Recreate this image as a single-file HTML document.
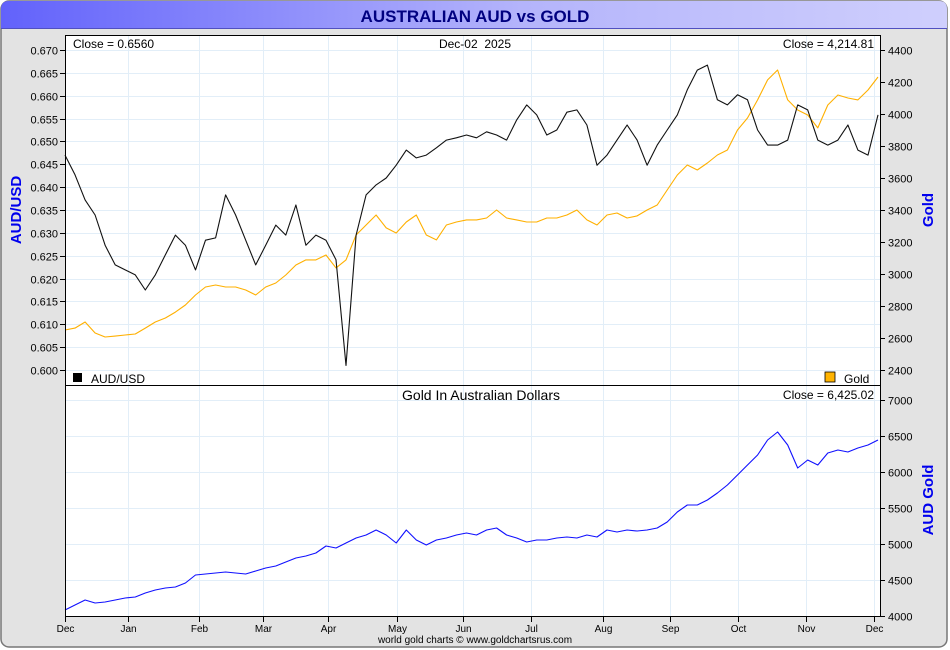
<!DOCTYPE html>
<html><head><meta charset="utf-8"><style>
html,body{margin:0;padding:0;width:950px;height:650px;overflow:hidden;background:#fff;}
svg{display:block;font-family:"Liberation Sans",sans-serif;}
</style></head><body>
<svg id="chart" width="950" height="650" xmlns="http://www.w3.org/2000/svg">
<defs>
<linearGradient id="tg" x1="0" x2="1" y1="0" y2="0"><stop offset="0" stop-color="#6262fb"/><stop offset="0.55" stop-color="#b4b4fb"/><stop offset="1" stop-color="#cfcffd"/></linearGradient>
</defs>
<rect x="1" y="1" width="946" height="646" rx="8" fill="#e3e3e3" stroke="#777" stroke-width="1.5"/>
<path d="M1,28 L1,9 Q1,1 9,1 L939,1 Q947,1 947,9 L947,28 Z" fill="url(#tg)"/>
<line x1="1" y1="28.5" x2="947" y2="28.5" stroke="#5050c0" stroke-width="1"/>
<text x="475" y="22" text-anchor="middle" font-size="17" font-weight="bold" fill="#000080">AUSTRALIAN AUD vs GOLD</text>
<rect x="65" y="35" width="815" height="582" fill="#fff"/>
<g id="grid"></g>
<g id="series"></g>
<rect x="65.5" y="35.5" width="815" height="350" fill="none" stroke="#000" stroke-width="1"/>
<rect x="65.5" y="385.5" width="815" height="231" fill="none" stroke="#000" stroke-width="1"/>
<g id="axes" font-size="11"></g>
<text x="73" y="48" font-size="12">Close = 0.6560</text>
<text x="475" y="48" font-size="12" text-anchor="middle">Dec-02&#160;&#160;2025</text>
<text x="874" y="48" font-size="12" text-anchor="end">Close = 4,214.81</text>
<rect x="73" y="373" width="9" height="9" fill="#000"/>
<text x="91" y="383" font-size="12">AUD/USD</text>
<rect x="825" y="372" width="10" height="10" fill="#ffb300" stroke="#000" stroke-width="0.8"/>
<text x="844" y="383" font-size="12">Gold</text>
<text x="481" y="400" font-size="14" text-anchor="middle">Gold In Australian Dollars</text>
<text x="874" y="399" font-size="12" text-anchor="end">Close = 6,425.02</text>
<text transform="translate(21,210) rotate(-90)" text-anchor="middle" font-size="15" font-weight="bold" fill="#0000ee">AUD/USD</text>
<text transform="translate(933,210) rotate(-90)" text-anchor="middle" font-size="15" font-weight="bold" fill="#0000ee">Gold</text>
<text transform="translate(933,500) rotate(-90)" text-anchor="middle" font-size="15" font-weight="bold" fill="#0000ee">AUD Gold</text>
<text x="475" y="643" font-size="10" text-anchor="middle">world gold charts © www.goldchartsrus.com</text>
</svg>
<script>
const audTicks=[0.600,0.605,0.610,0.615,0.620,0.625,0.630,0.635,0.640,0.645,0.650,0.655,0.660,0.665,0.670];
const goldTicks=[2400,2600,2800,3000,3200,3400,3600,3800,4000,4200,4400];
const audGoldTicks=[4000,4500,5000,5500,6000,6500,7000];
const months=["Dec","Jan","Feb","Mar","Apr","May","Jun","Jul","Aug","Sep","Oct","Nov","Dec"];
const monthDays=[0,28.2,59.9,88.5,117.6,148.4,178,208.4,240.6,270.6,301,331.4,361.7];
const audUsd=[0.6470,0.6427,0.6372,0.6339,0.6273,0.6230,0.6219,0.6208,0.6175,0.6208,0.6252,0.6295,0.6273,0.6219,0.6284,0.6289,0.6383,0.6339,0.6284,0.6230,0.6273,0.6317,0.6295,0.6361,0.6273,0.6295,0.6284,0.6241,0.6010,0.6295,0.6383,0.6405,0.6420,0.6448,0.6481,0.6464,0.6470,0.6486,0.6503,0.6508,0.6514,0.6508,0.6521,0.6514,0.6503,0.6547,0.6580,0.6558,0.6514,0.6525,0.6564,0.6569,0.6536,0.6448,0.6470,0.6503,0.6536,0.6503,0.6448,0.6492,0.6525,0.6558,0.6613,0.6656,0.6667,0.6591,0.6580,0.6602,0.6591,0.6525,0.6492,0.6492,0.6503,0.6580,0.6569,0.6503,0.6492,0.6503,0.6536,0.6481,0.6470,0.6558];
const goldUsd=[2650,2662,2700,2631,2606,2612,2619,2625,2662,2700,2725,2762,2806,2869,2919,2931,2919,2919,2900,2869,2919,2944,2994,3056,3088,3088,3119,3038,3088,3244,3306,3369,3288,3256,3325,3369,3244,3213,3306,3325,3338,3338,3350,3400,3350,3338,3325,3325,3350,3350,3369,3400,3338,3306,3369,3381,3350,3363,3400,3431,3525,3619,3681,3650,3694,3744,3775,3900,3975,4088,4213,4275,4088,4025,3994,3913,4056,4119,4100,4088,4150,4231];
const goldAud=[4083,4153,4222,4181,4194,4222,4250,4264,4319,4361,4389,4403,4458,4569,4583,4597,4611,4597,4583,4625,4667,4694,4750,4806,4833,4875,4972,4944,5014,5083,5125,5194,5125,5014,5194,5056,4986,5056,5083,5125,5153,5125,5194,5222,5125,5083,5028,5056,5056,5083,5097,5083,5125,5097,5194,5167,5194,5181,5194,5222,5306,5444,5542,5542,5611,5708,5819,5958,6097,6236,6444,6556,6375,6056,6167,6097,6264,6306,6278,6333,6375,6444];

const NS="http://www.w3.org/2000/svg";
const X0=65,X1=875;
const yAud=v=>50+(0.670-v)/0.070*320;
const yGold=v=>50+(4400-v)/2000*320;
const yAG=v=>400+(7000-v)/3000*216;
const xDay=d=>X0+d/364*814;
const xIdx=(i,n)=>X0+i*(X1-X0+3)/(n-1);
function mk(tag,attrs,parent){const e=document.createElementNS(NS,tag);for(const k in attrs)e.setAttribute(k,attrs[k]);parent.appendChild(e);return e;}
const grid=document.getElementById('grid'),axes=document.getElementById('axes'),ser=document.getElementById('series');
audTicks.forEach(v=>{const y=Math.round(yAud(v))+0.5;
 const l=mk('line',{x1:66,x2:880,y1:y,y2:y,stroke:'#e2eef8'},grid);
 
 
 mk('line',{x1:60,x2:65,y1:y,y2:y,stroke:'#000'},axes);
 const t=mk('text',{x:58,y:y+4,'text-anchor':'end'},axes);t.textContent=v.toFixed(3);
 
 
});
goldTicks.forEach(v=>{const y=Math.round(yGold(v))+0.5;
 mk('line',{x1:880,x2:885,y1:y,y2:y,stroke:'#000'},axes);
 const t=mk('text',{x:888,y:y+4},axes);t.textContent=v;
 
 
});
audGoldTicks.forEach(v=>{const y=Math.round(yAG(v))+0.5;
 const l=mk('line',{x1:66,x2:880,y1:y,y2:y,stroke:'#e2eef8'},grid);
 
 
 mk('line',{x1:880,x2:885,y1:y,y2:y,stroke:'#000'},axes);
 const t=mk('text',{x:888,y:y+4},axes);t.textContent=v;
 
 
});
months.forEach((m,i)=>{const x=Math.round(xDay(monthDays[i]))+0.5;
 const l=mk('line',{x1:x,x2:x,y1:36,y2:616,stroke:'#e2eef8'},grid);
 
 
 mk('line',{x1:x,x2:x,y1:617,y2:622,stroke:'#000'},axes);
 const t=mk('text',{x:x,y:632,'text-anchor':'middle','font-size':10},axes);t.textContent=m;
 
 
});
function line(arr,yf,color,name){
 const d=arr.map((v,i)=>(i?'L':'M')+xIdx(i,arr.length).toFixed(1)+','+yf(v).toFixed(1)).join(' ');
 const p=mk('path',{d:d,fill:'none',stroke:color,'stroke-width':1.1,'stroke-linejoin':'round'},ser);
 
 
}
line(goldUsd,yGold,'#ffb000','gold-usd-line');
line(audUsd,yAud,'#111','aud-usd-line');
line(goldAud,yAG,'#1010ff','gold-aud-line');
</script>
</body></html>
